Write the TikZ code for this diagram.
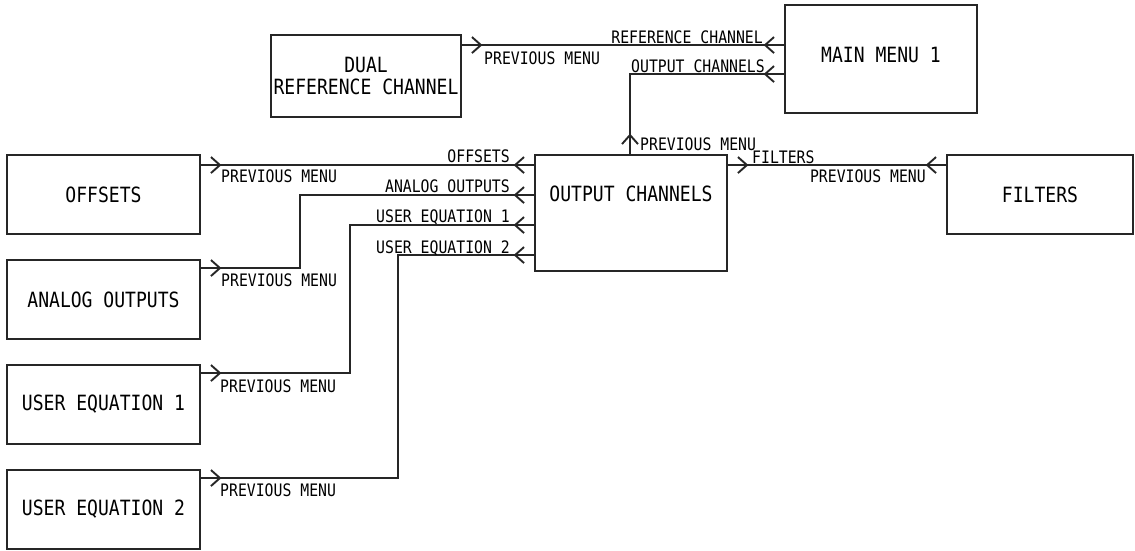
\documentclass[tikz,border=0pt]{standalone}
\usepackage{fontspec}
\usepackage{tikz}
\usetikzlibrary{decorations.markings}
\newfontfamily\diagfont[FakeStretch=0.86]{DejaVu Sans Mono}
\newcommand{\menufont}{\diagfont\fontsize{21}{22}\selectfont}
\newcommand{\linkfont}{\diagfont\fontsize{17.2}{19}\selectfont}

\begin{document}
\begin{tikzpicture}[
    x=1pt, y=-1pt,
    menu/.style={rectangle,draw=black!85,line width=1.9pt,inner sep=2pt,
                 minimum width=193pt,minimum height=79pt,align=center,
                 font=\menufont},
    lbl/.style={inner sep=0pt,font=\linkfont},
    link/.style={draw=black!85,line width=1.6pt,postaction={decorate},
                 decoration={markings,
                   mark=at position 19pt with {\draw[line width=1.9pt] (-9pt,8pt) -- (0pt,0pt) -- (-9pt,-8pt);},
                   mark=at position -19pt with {\draw[line width=1.9pt] (9pt,8pt) -- (0pt,0pt) -- (9pt,-8pt);}}}
  ]
    \useasboundingbox (0,0) rectangle (1135,550);
    % Top row
    \node[menu,minimum width=192pt,minimum height=108pt,text depth=8pt] (main) at (881,59) {MAIN MENU 1};
    \node[menu,minimum width=190pt,minimum height=82pt] (dual) at (366,76) {DUAL\\REFERENCE CHANNEL};
    % Middle
    \node[menu,minimum width=192pt,minimum height=116pt,text depth=39pt] (outch) at (631,213) {OUTPUT CHANNELS};
    \node[menu,minimum width=186pt] (filters) at (1040,194.5) {FILTERS};
    % Left column
    \node[menu] (offsets) at (103.5,194.5) {OFFSETS};
    \node[menu] (analog)  at (103.5,299.5) {ANALOG OUTPUTS};
    \node[menu] (ueq1)    at (103.5,404.5) {USER EQUATION 1};
    \node[menu] (ueq2)    at (103.5,509.5) {USER EQUATION 2};

    % Links
    \draw[link] ([yshift=-11pt]dual.north east) -- ([yshift=-41pt]main.north west);
    \draw[link] ([xshift=-1pt]outch.north) -- ++(0,-80) -- ([yshift=-70pt]main.north west);
    \draw[link] ([yshift=-11pt]outch.north east) -- ([yshift=-11pt]filters.north west);
    \draw[link] ([yshift=-11pt]offsets.north east) -- ([yshift=-11pt]outch.north west);
    \draw[link] ([yshift=-9pt]analog.north east) -- ++(99,0) |- ([yshift=-41pt]outch.north west);
    \draw[link] ([yshift=-9pt]ueq1.north east) -- ++(149,0) |- ([yshift=-71pt]outch.north west);
    \draw[link] ([yshift=-9pt]ueq2.north east) -- ++(197,0) |- ([yshift=-101pt]outch.north west);

    % Link labels
    \node[lbl,anchor=base east] (l-ref)  at (763,43)  {REFERENCE CHANNEL};
    \node[lbl,anchor=base east] (l-out)  at (765,72)  {OUTPUT CHANNELS};
    \node[lbl,anchor=base west] (l-pm1)  at (484,64)  {PREVIOUS MENU};
    \node[lbl,anchor=base west] (l-pm2)  at (640,150) {PREVIOUS MENU};
    \node[lbl,anchor=base west] (l-fil)  at (752,163) {FILTERS};
    \node[lbl,anchor=base east] (l-pm3)  at (926,182) {PREVIOUS MENU};
    \node[lbl,anchor=base east] (l-off)  at (510,162) {OFFSETS};
    \node[lbl,anchor=base east] (l-ana)  at (510,192) {ANALOG OUTPUTS};
    \node[lbl,anchor=base east] (l-eq1)  at (510,222) {USER EQUATION 1};
    \node[lbl,anchor=base east] (l-eq2)  at (510,253) {USER EQUATION 2};
    \node[lbl,anchor=base west] (l-pm4)  at (221,182) {PREVIOUS MENU};
    \node[lbl,anchor=base west] (l-pm5)  at (221,286) {PREVIOUS MENU};
    \node[lbl,anchor=base west] (l-pm6)  at (220,392) {PREVIOUS MENU};
    \node[lbl,anchor=base west] (l-pm7)  at (220,496) {PREVIOUS MENU};
  \end{tikzpicture}
\end{document}
